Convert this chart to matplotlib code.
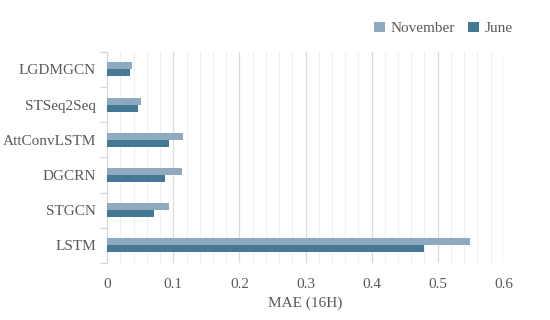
import matplotlib
matplotlib.use("Agg")
import matplotlib.pyplot as plt
import numpy as np
from matplotlib.ticker import MultipleLocator, FixedLocator

models = ["LGDMGCN", "STSeq2Seq", "AttConvLSTM", "DGCRN", "STGCN", "LSTM"]
november = [0.037, 0.051, 0.115, 0.113, 0.094, 0.549]
june = [0.035, 0.047, 0.094, 0.088, 0.071, 0.480]
xticks = [0, 0.1, 0.2, 0.3, 0.4, 0.5, 0.6]
xticklabels = ["0", "0.1", "0.2", "0.3", "0.4", "0.5", "0.6"]

plt.rcParams['font.family'] = ['Liberation Serif', 'DejaVu Serif']
text_color = "#595959"
c_nov = "#8FA9BF"
c_jun = "#457895"
fs = 11

fig = plt.figure(figsize=(5.5, 3.2), dpi=100)
ax = fig.add_axes([0.195, 0.178, 0.721, 0.66])

n = len(models)
y = np.arange(n)[::-1].astype(float)
h = 0.2
ax.barh(y + h / 2, november, height=h, color=c_nov, label="November", zorder=3)
ax.barh(y - h / 2, june, height=h, color=c_jun, label="June", zorder=3)

ax.set_xlim(0, 0.6)
ax.set_ylim(-0.5, n - 0.5)
ax.set_xticks(xticks)
ax.set_xticklabels(xticklabels)
ax.xaxis.set_minor_locator(MultipleLocator(0.02))
ax.grid(axis='x', which='major', color="#dadada", linewidth=0.9, zorder=0)
ax.grid(axis='x', which='minor', color="#efefef", linewidth=0.8, zorder=0)
ax.tick_params(axis='x', which='both', length=0, colors=text_color, labelsize=fs, pad=11)

ax.set_yticks(y)
ax.set_yticklabels(models)
ax.yaxis.set_minor_locator(FixedLocator(np.arange(-0.5, n, 1.0)))
ax.tick_params(axis='y', which='major', length=0, colors=text_color, labelsize=fs, pad=8)
ax.tick_params(axis='y', which='minor', length=5, color="#d9d9d9", width=1)

for s in ["top", "right", "bottom"]:
    ax.spines[s].set_visible(False)
ax.spines["left"].set_color("#d9d9d9")

ax.set_xlabel("MAE (16H)", color=text_color, fontsize=fs, labelpad=4)

leg = fig.legend(loc="upper right", bbox_to_anchor=(0.958, 0.975), ncol=2, frameon=False,
                 fontsize=fs, handlelength=0.7, handleheight=0.7, handletextpad=0.4,
                 columnspacing=0.85)
for t in leg.get_texts():
    t.set_color(text_color)

fig.savefig("out.png", dpi=100)
